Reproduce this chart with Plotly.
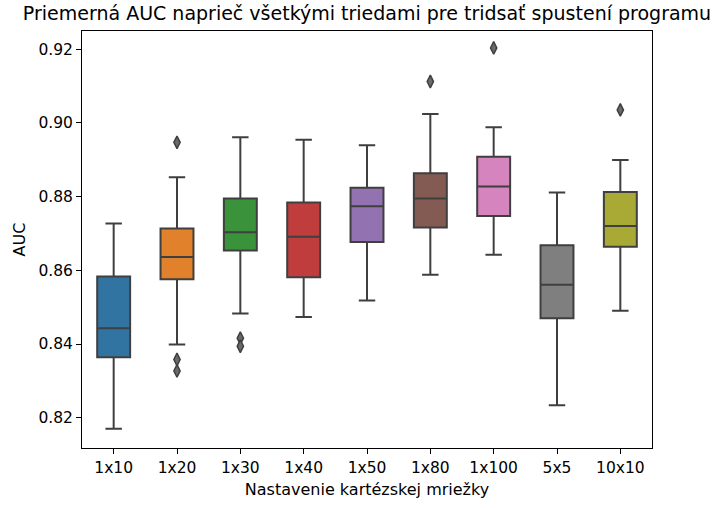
import plotly.graph_objects as go

categories = ["1x10", "1x20", "1x30", "1x40", "1x50", "1x80", "1x100", "5x5", "10x10"]
lower_whisker = [0.8170, 0.8399, 0.8483, 0.8473, 0.8518, 0.8588, 0.8642, 0.8234, 0.8490]
q1 = [0.8364, 0.8576, 0.8654, 0.8581, 0.8677, 0.8716, 0.8747, 0.8470, 0.8664]
median = [0.8443, 0.8636, 0.8703, 0.8691, 0.8774, 0.8795, 0.8827, 0.8561, 0.8720]
q3 = [0.8583, 0.8713, 0.8795, 0.8784, 0.8824, 0.8863, 0.8908, 0.8668, 0.8812]
upper_whisker = [0.8727, 0.8852, 0.8961, 0.8954, 0.8939, 0.9024, 0.8988, 0.8811, 0.8899]
outliers = {
    "1x20": [0.8947, 0.8358, 0.8327],
    "1x30": [0.8416, 0.8394],
    "1x80": [0.9112],
    "1x100": [0.9203],
    "10x10": [0.9035],
}
colors = ["#3274a1", "#e1812c", "#3a923a", "#c03d3e", "#9372b2",
          "#845b53", "#d684bd", "#7f7f7f", "#a9aa35"]
edge = "#3f3f3f"

fig = go.Figure()
for i, c in enumerate(categories):
    fig.add_trace(go.Box(
        x=[i], q1=[q1[i]], median=[median[i]], q3=[q3[i]],
        lowerfence=[lower_whisker[i]], upperfence=[upper_whisker[i]],
        fillcolor=colors[i], line=dict(color=edge, width=2),
        width=0.52, whiskerwidth=0.5, boxpoints=False, showlegend=False,
        hoverinfo="skip",
    ))

for c, vals in outliers.items():
    i = categories.index(c)
    fig.add_trace(go.Scatter(
        x=[i] * len(vals), y=vals, mode="markers", showlegend=False,
        marker=dict(symbol="diamond-tall", size=9, color="#6a6a6a",
                    line=dict(color=edge, width=1.5)),
        hoverinfo="skip",
    ))

font = "DejaVu Sans, sans-serif"
fig.update_layout(
    width=717, height=508,
    margin=dict(l=82, r=65, t=31, b=53),
    paper_bgcolor="white", plot_bgcolor="white",
    font=dict(family=font, size=16, color="black"),
    title=dict(text="Priemerná AUC naprieč všetkými triedami pre tridsať spustení programu",
               x=(82 + 652) / 2 / 717, xanchor="center", y=1 - 13 / 508, yanchor="middle",
               font=dict(size=19, color="black")),
)
fig.update_xaxes(
    range=[-0.5, 8.5], tickmode="array", tickvals=list(range(len(categories))),
    ticktext=categories, showline=True, linecolor="black", linewidth=1, mirror=True,
    ticks="outside", ticklen=5, tickcolor="black", showgrid=False, zeroline=False,
    tickfont=dict(size=15.5),
    title=dict(text="Nastavenie kartézskej mriežky", standoff=8, font=dict(size=16)),
)
fig.update_yaxes(
    range=[0.8118, 0.9249], tickvals=[0.82, 0.84, 0.86, 0.88, 0.90, 0.92],
    tickformat=".2f", showline=True, linecolor="black", linewidth=1, mirror=True,
    ticks="outside", ticklen=5, tickcolor="black", showgrid=False, zeroline=False,
    tickfont=dict(size=15.5),
    title=dict(text="AUC", standoff=8, font=dict(size=16)),
)

fig.write_html("out.html")
